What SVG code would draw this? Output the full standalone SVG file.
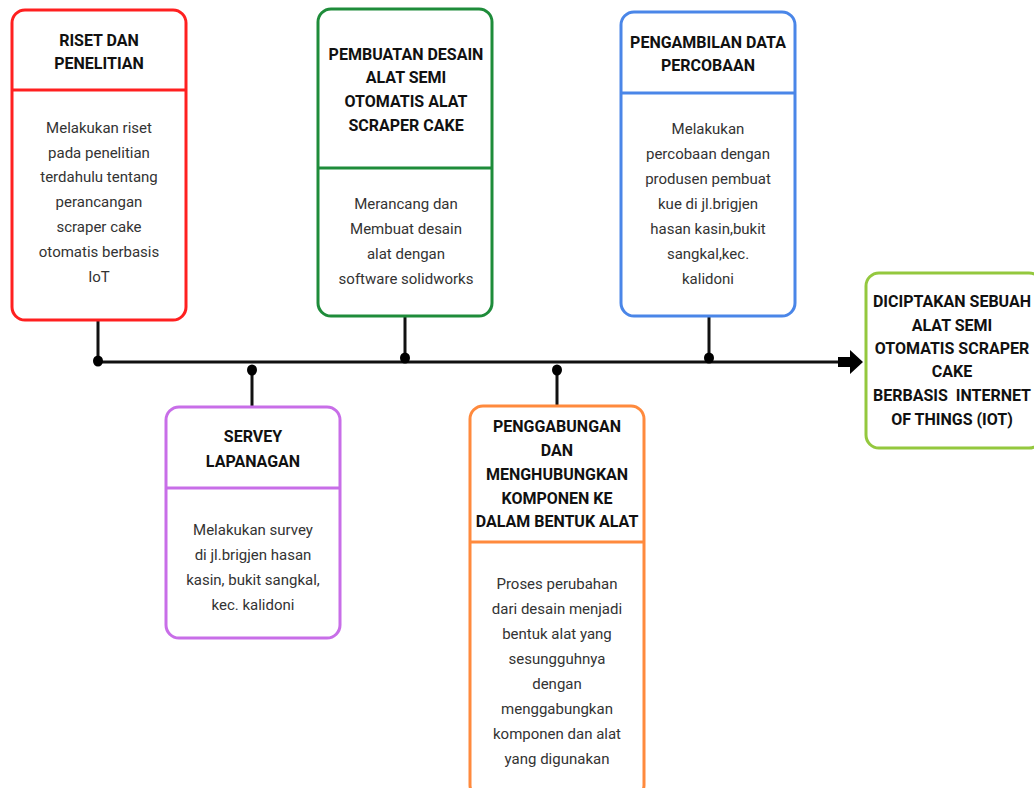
<svg xmlns="http://www.w3.org/2000/svg" width="1034" height="788" viewBox="0 0 1034 788">
<style>
.box{fill:#fff;stroke-width:3}
.t{font-family:Roboto,"Liberation Sans",sans-serif;font-weight:bold;font-size:16px;fill:#111;text-anchor:middle}
.b{font-family:Roboto,"Liberation Sans",sans-serif;font-size:15px;fill:#333;text-anchor:middle}
.ln{stroke:#111;stroke-width:3;fill:none}
</style>
<rect width="1034" height="788" fill="#fff"/>
<g id="connectors">
<line class="ln" x1="98" y1="362" x2="842" y2="362"/>
<polygon points="838,357 850,357 850,350 863,362 850,374 850,367 838,367" fill="#000"/>
<line class="ln" x1="98" y1="320" x2="98" y2="362"/>
<ellipse cx="98" cy="361" rx="5" ry="5.5" fill="#000"/>
<line class="ln" x1="252" y1="370" x2="252" y2="407"/>
<ellipse cx="252" cy="370" rx="5" ry="5.5" fill="#000"/>
<line class="ln" x1="405" y1="316" x2="405" y2="358"/>
<ellipse cx="405" cy="358" rx="5" ry="5.5" fill="#000"/>
<line class="ln" x1="557" y1="370" x2="557" y2="406"/>
<ellipse cx="557" cy="370" rx="5" ry="5.5" fill="#000"/>
<line class="ln" x1="709" y1="316" x2="709" y2="358"/>
<ellipse cx="709" cy="358" rx="5" ry="5.5" fill="#000"/>
</g>
<g id="riset">
<rect class="box" x="12" y="10" width="174" height="310" rx="13" stroke="#ff2020"/>
<line x1="12" y1="90" x2="186" y2="90" stroke="#ff2020" stroke-width="3"/>
<text class="t" x="99" y="46">RISET DAN</text>
<text class="t" x="99" y="69">PENELITIAN</text>
<text class="b" x="99" y="133">Melakukan riset</text>
<text class="b" x="99" y="158">pada penelitian</text>
<text class="b" x="99" y="182">terdahulu tentang</text>
<text class="b" x="99" y="207">perancangan</text>
<text class="b" x="99" y="232">scraper cake</text>
<text class="b" x="99" y="257">otomatis berbasis</text>
<text class="b" x="99" y="282">IoT</text>
</g>
<g id="desain">
<rect class="box" x="318" y="9" width="174" height="307" rx="13" stroke="#1e8c3a"/>
<line x1="318" y1="168" x2="492" y2="168" stroke="#1e8c3a" stroke-width="3"/>
<text class="t" x="406" y="60">PEMBUATAN DESAIN</text>
<text class="t" x="406" y="83">ALAT SEMI</text>
<text class="t" x="406" y="107">OTOMATIS ALAT</text>
<text class="t" x="406" y="131">SCRAPER CAKE</text>
<text class="b" x="406" y="209">Merancang dan</text>
<text class="b" x="406" y="234">Membuat desain</text>
<text class="b" x="406" y="259">alat dengan</text>
<text class="b" x="406" y="284">software solidworks</text>
</g>
<g id="data">
<rect class="box" x="621" y="12" width="174" height="304" rx="13" stroke="#4a86e8"/>
<line x1="621" y1="93" x2="795" y2="93" stroke="#4a86e8" stroke-width="3"/>
<text class="t" x="708" y="48">PENGAMBILAN DATA</text>
<text class="t" x="708" y="71">PERCOBAAN</text>
<text class="b" x="708" y="134">Melakukan</text>
<text class="b" x="708" y="159">percobaan dengan</text>
<text class="b" x="708" y="184">produsen pembuat</text>
<text class="b" x="708" y="209">kue di jl.brigjen</text>
<text class="b" x="708" y="234">hasan kasin,bukit</text>
<text class="b" x="708" y="259">sangkal,kec.</text>
<text class="b" x="708" y="284">kalidoni</text>
</g>
<g id="servey">
<rect class="box" x="166" y="407" width="174" height="231" rx="13" stroke="#c86ee8"/>
<line x1="166" y1="488" x2="340" y2="488" stroke="#c86ee8" stroke-width="3"/>
<text class="t" x="253" y="442">SERVEY</text>
<text class="t" x="253" y="467">LAPANAGAN</text>
<text class="b" x="253" y="535">Melakukan survey</text>
<text class="b" x="253" y="560">di jl.brigjen hasan</text>
<text class="b" x="253" y="585">kasin, bukit sangkal,</text>
<text class="b" x="253" y="610">kec. kalidoni</text>
</g>
<g id="penggabungan">
<rect class="box" x="470" y="406" width="174" height="392" rx="13" stroke="#ff8a3d"/>
<line x1="470" y1="542" x2="644" y2="542" stroke="#ff8a3d" stroke-width="3"/>
<text class="t" x="557" y="432">PENGGABUNGAN</text>
<text class="t" x="557" y="456">DAN</text>
<text class="t" x="557" y="480">MENGHUBUNGKAN</text>
<text class="t" x="557" y="504">KOMPONEN KE</text>
<text class="t" x="557" y="527">DALAM BENTUK ALAT</text>
<text class="b" x="557" y="589">Proses perubahan</text>
<text class="b" x="557" y="614">dari desain menjadi</text>
<text class="b" x="557" y="639">bentuk alat yang</text>
<text class="b" x="557" y="664">sesungguhnya</text>
<text class="b" x="557" y="689">dengan</text>
<text class="b" x="557" y="714">menggabungkan</text>
<text class="b" x="557" y="739">komponen dan alat</text>
<text class="b" x="557" y="764">yang digunakan</text>
</g>
<g id="hasil">
<rect class="box" x="866" y="273" width="176" height="175" rx="13" stroke="#94c83e"/>
<text class="t" x="952" y="307">DICIPTAKAN SEBUAH</text>
<text class="t" x="952" y="331">ALAT SEMI</text>
<text class="t" x="952" y="354">OTOMATIS SCRAPER</text>
<text class="t" x="952" y="377">CAKE</text>
<text class="t" x="952" y="401" xml:space="preserve">BERBASIS  INTERNET</text>
<text class="t" x="952" y="425">OF THINGS (IOT)</text>
</g>
</svg>
